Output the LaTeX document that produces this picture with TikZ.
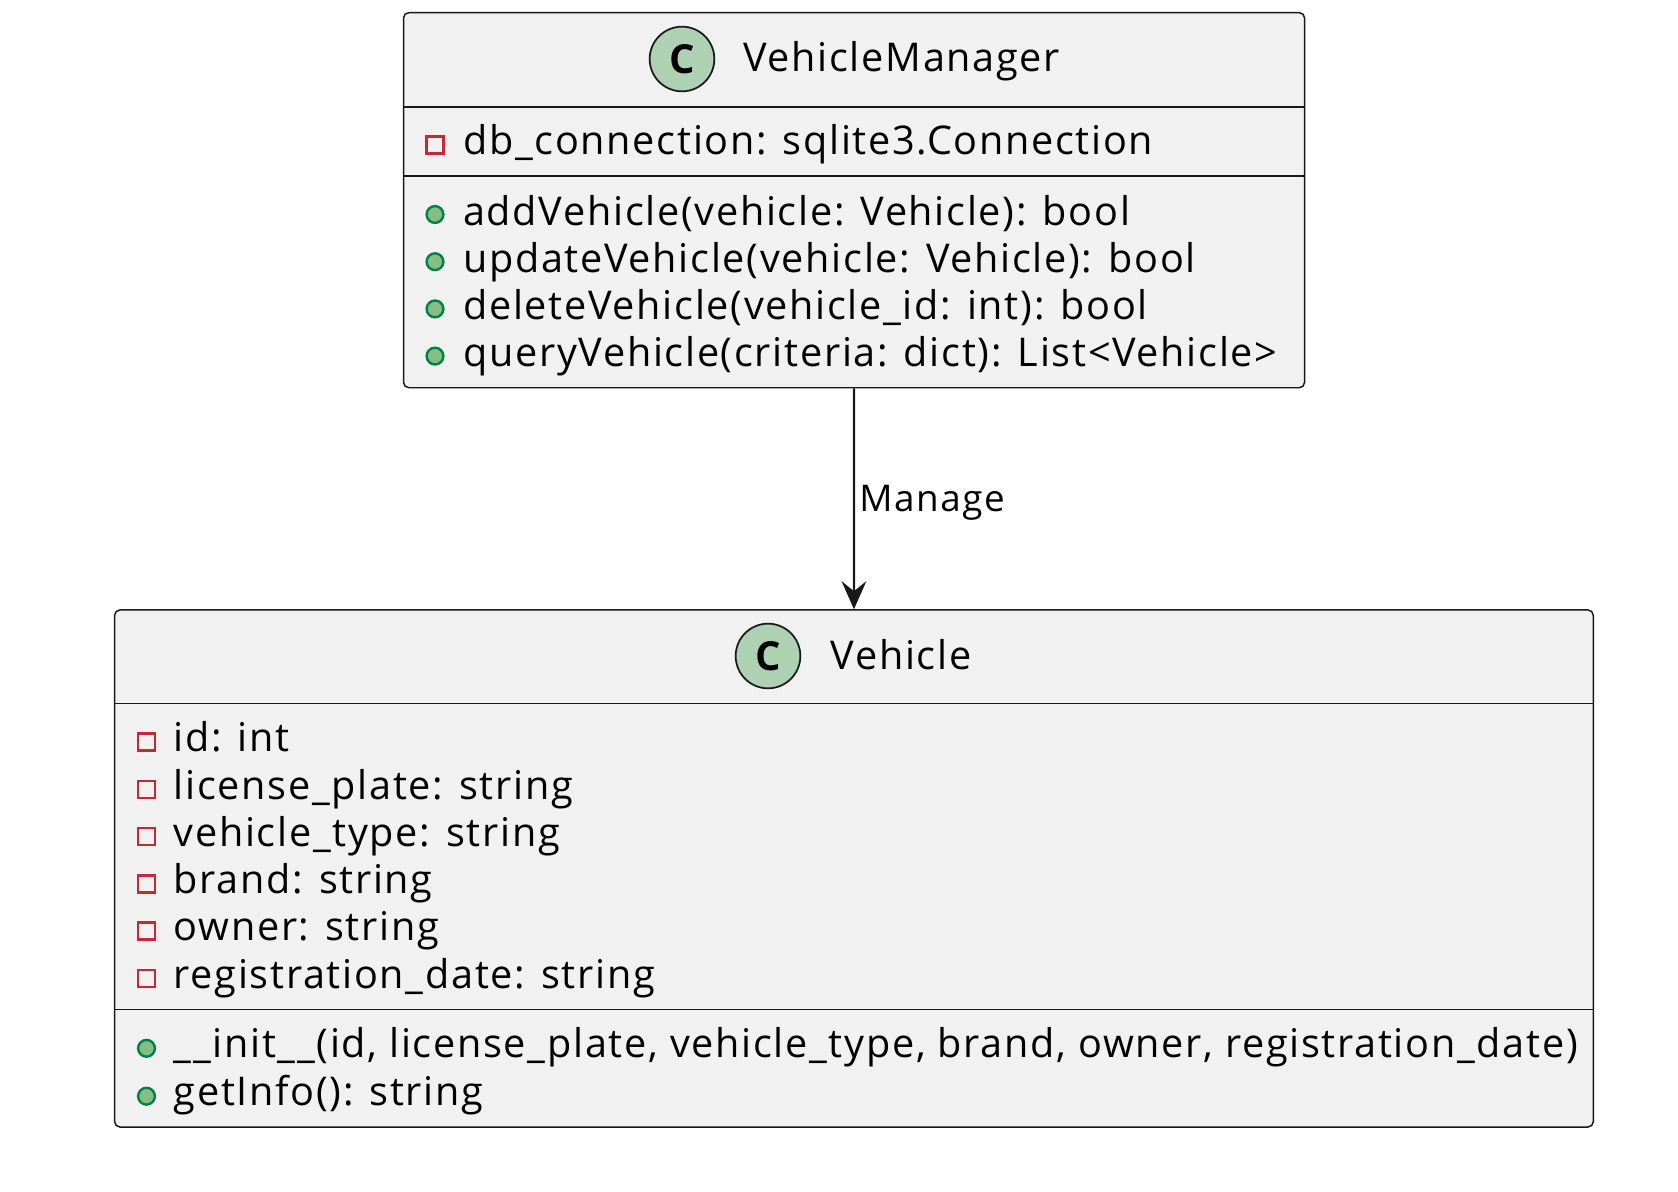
\documentclass[tikz,border=0pt]{standalone}
\usepackage{fontspec}
\setmainfont{Open Sans}[LetterSpace=4.3]
\usetikzlibrary{arrows.meta}
\definecolor{boxfill}{HTML}{F1F1F1}
\definecolor{boxline}{HTML}{181818}
\definecolor{cfill}{HTML}{ADD1B2}
\definecolor{privred}{HTML}{C82930}
\definecolor{pubfill}{HTML}{84BE84}
\definecolor{publine}{HTML}{038048}
\tikzset{
  classbox/.style={draw=boxline, fill=boxfill, line width=1.1pt, rounded corners=4pt, inner sep=0pt},
  divider/.style={draw=boxline, line width=1.1pt},
  cicon/.style={circle, draw=boxline, fill=cfill, line width=1.3pt, minimum size=48.5pt, inner sep=0pt,
    font=\fontsize{30pt}{30pt}\selectfont\bfseries},
  privicon/.style={rectangle, draw=privred, fill=none, line width=1.9pt, minimum size=12.8pt, inner sep=0pt},
  pubicon/.style={circle, draw=publine, fill=pubfill, line width=1.8pt, minimum size=12.6pt, inner sep=0pt},
  mtext/.style={anchor=base west, inner sep=0pt, font=\fontsize{29.7pt}{35pt}\selectfont},
  ttext/.style={anchor=base west, inner sep=0pt, font=\fontsize{29.7pt}{35pt}\selectfont},
  lbl/.style={anchor=base west, inner sep=0pt, font=\fontsize{27.6pt}{32pt}\selectfont},
  conn/.style={draw=boxline, line width=1.6pt, -{Stealth[length=21pt, width=18.5pt, inset=7.5pt]}},
}
\begin{document}
\begin{tikzpicture}[x=0.75pt, y=-0.75pt]
\useasboundingbox[fill=white] (0,0) rectangle (1678,1192);

% VehicleManager
\node[classbox, minimum width=675.8pt, minimum height=281.3pt] (vm) at (854.05,200.2) {};
\draw[divider] (404,107) -- (1304,107);
\draw[divider] (404,176) -- (1304,176);
\node[cicon] (vmc) at (682,59) {C};
\node[ttext] (vmt) at (743,71.7) {VehicleManager};
\node[privicon] (vma1i) at (435,145) {};
\node[mtext] (vma1) at (463,154) {db\_connection: sqlite3.Connection};
\node[pubicon] (vmm1i) at (435,214.5) {};
\node[mtext] (vmm1) at (463,225) {addVehicle(vehicle: Vehicle): bool};
\node[pubicon] (vmm2i) at (435,261.7) {};
\node[mtext] (vmm2) at (463,272.2) {updateVehicle(vehicle: Vehicle): bool};
\node[pubicon] (vmm3i) at (435,308.9) {};
\node[mtext] (vmm3) at (463,319.4) {deleteVehicle(vehicle\_id: int): bool};
\node[pubicon] (vmm4i) at (435,356.1) {};
\node[mtext] (vmm4) at (463,366.6) {queryVehicle(criteria: dict): List<Vehicle>};

% Vehicle
\node[classbox, minimum width=1109pt, minimum height=387.8pt] (veh) at (853.95,868.5) {};
\draw[divider] (115,703.3) -- (1593,703.3);
\draw[divider] (115,1009.5) -- (1593,1009.5);
\node[cicon] (vehc) at (768,656) {C};
\node[ttext] (veht) at (830.5,669) {Vehicle};
\node[privicon] (va1i) at (146.5,742) {};
\node[mtext] (va1) at (173.5,751.7) {id: int};
\node[privicon] (va2i) at (146.5,789.3) {};
\node[mtext] (va2) at (173.5,799) {license\_plate: string};
\node[privicon] (va3i) at (146.5,836.6) {};
\node[mtext] (va3) at (173.5,846.3) {vehicle\_type: string};
\node[privicon] (va4i) at (146.5,883.9) {};
\node[mtext] (va4) at (173.5,893.6) {brand: string};
\node[privicon] (va5i) at (146.5,931.2) {};
\node[mtext] (va5) at (173.5,940.9) {owner: string};
\node[privicon] (va6i) at (146.5,978.5) {};
\node[mtext] (va6) at (173.5,988.2) {registration\_date: string};
\node[pubicon] (vm1i) at (146.5,1048.3) {};
\node[mtext] (vm1) at (173.5,1057.5) {\_\_init\_\_(id, license\_plate, vehicle\_type, brand, owner, registration\_date)};
\node[pubicon] (vm2i) at (146.5,1096.2) {};
\node[mtext] (vm2) at (173.5,1105) {getInfo(): string};

% connector
\draw[conn] (vm.south) -- (veh.north);
\node[lbl] (mlbl) at (859,511.7) {Manage};
\end{tikzpicture}
\end{document}
